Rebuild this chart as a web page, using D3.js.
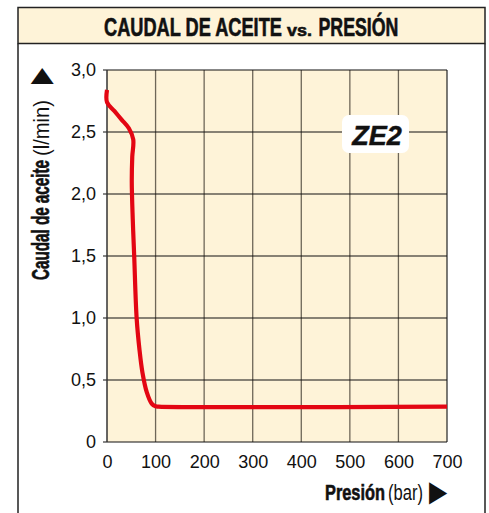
<!DOCTYPE html>
<html>
<head>
<meta charset="utf-8">
<script src="https://cdn.jsdelivr.net/npm/d3@7"></script>
<style>
  html, body { margin: 0; padding: 0; background: #fff; }
  svg { display: block; }
</style>
</head>
<body>
<script>
// Oil flow vs. pressure curve for the ZE2 pump
const pressure = [0, 0, 15, 30, 45, 54, 52, 51, 53, 56, 61, 67, 73, 82, 92, 100, 106, 700];
const flow     = [2.84, 2.74, 2.67, 2.60, 2.53, 2.44, 2.3, 2.1, 1.8, 1.5, 1.0, 0.74, 0.56, 0.4, 0.31, 0.288, 0.285, 0.285];

const xTicks = [0, 100, 200, 300, 400, 500, 600, 700];
const yTicks = [0, 0.5, 1.0, 1.5, 2.0, 2.5, 3.0];
const yTickLabels = ["0", "0,5", "1,0", "1,5", "2,0", "2,5", "3,0"];

const modelName = "ZE2";

const W = 489, H = 513;
const cream = "#fef3d8";
const red = "#e30613";
const ink = "#111";
const sans = "'Liberation Sans', Arial, sans-serif";

const svg = d3.select("body").append("svg").attr("width", W).attr("height", H);

// condensed-looking label: a run of text scaled horizontally to a given width
function squeezed(parent, str, x0, yBase, width, size, bold) {
  const g = parent.append("g");
  const t = g.append("text")
    .attr("x", 0).attr("y", 0)
    .attr("font-family", sans).attr("font-size", size)
    .attr("font-weight", bold ? "bold" : "normal")
    .attr("fill", ink)
    .attr("stroke", bold ? ink : "none").attr("stroke-width", bold ? 0.6 : 0)
    .text(str);
  const natural = t.node().getComputedTextLength() || width;
  g.attr("transform", `translate(${x0},${yBase}) scale(${width / natural},1)`);
  return t;
}

// outer frame and title band
svg.append("rect").attr("x", 18).attr("y", 7.5).attr("width", 467).attr("height", 36)
  .attr("fill", cream).attr("stroke", "#222").attr("stroke-width", 1.5);
svg.append("path").attr("d", "M18,43.5 V520 M485,43.5 V520")
  .attr("stroke", "#222").attr("stroke-width", 1.5).attr("fill", "none");

squeezed(svg, "CAUDAL DE ACEITE", 104, 35.5, 178, 25, true);
squeezed(svg, "vs.", 287, 35.5, 25, 17, true);
squeezed(svg, "PRESIÓN", 318.5, 35.5, 80, 25, true);

// plot area
const x = d3.scaleLinear().domain([0, 700]).range([107, 447]);
const y = d3.scaleLinear().domain([0, 3]).range([442, 70]);

svg.append("rect").attr("x", x(0)).attr("y", y(3)).attr("width", x(700) - x(0)).attr("height", y(0) - y(3))
  .attr("fill", cream);

// vertical grid lines
svg.append("g").selectAll("line").data(xTicks.slice(1)).join("line")
  .attr("x1", d => x(d)).attr("x2", d => x(d))
  .attr("y1", y(3)).attr("y2", y(0))
  .attr("stroke", d => d === 700 ? "#333" : "#6e6658").attr("stroke-width", 1.3);

// horizontal grid lines, extended left as tick marks
svg.append("g").selectAll("line").data(yTicks).join("line")
  .attr("x1", x(0) - 4).attr("x2", x(700))
  .attr("y1", d => y(d)).attr("y2", d => y(d))
  .attr("stroke", ink).attr("stroke-width", 1.1);

// left axis
svg.append("line").attr("x1", x(0)).attr("x2", x(0)).attr("y1", y(3)).attr("y2", y(0))
  .attr("stroke", "#333").attr("stroke-width", 1.5);

// axis tick labels via d3 axes
const yAxis = d3.axisLeft(y).tickValues(yTicks).tickFormat((d, i) => yTickLabels[i]).tickSize(0).tickPadding(11);
const gy = svg.append("g").attr("transform", `translate(${x(0)},0)`).call(yAxis);
gy.select(".domain").remove();
gy.selectAll("text").attr("font-family", sans).attr("font-size", 18).attr("fill", ink);

const xAxis = d3.axisBottom(x).tickValues(xTicks).tickFormat(d => String(d)).tickSize(0).tickPadding(13);
const gx = svg.append("g").attr("transform", `translate(0,${y(0)})`).call(xAxis);
gx.select(".domain").remove();
gx.selectAll("text").attr("font-family", sans).attr("font-size", 18).attr("fill", ink);

// curve
const line = d3.line()
  .x((d, i) => x(pressure[i]))
  .y((d, i) => y(flow[i]))
  .curve(d3.curveCatmullRom.alpha(0.5));
svg.append("path").datum(flow).attr("d", line)
  .attr("fill", "none").attr("stroke", red).attr("stroke-width", 4.2)
  .attr("stroke-linejoin", "round");

// model badge
svg.append("rect").attr("x", 342).attr("y", 115).attr("width", 67).attr("height", 38).attr("rx", 7)
  .attr("fill", "#fff");
svg.append("text").attr("x", 377).attr("y", 145).attr("text-anchor", "middle")
  .attr("font-family", sans)
  .attr("font-weight", "bold").attr("font-style", "italic").attr("font-size", 27).attr("fill", ink)
  .attr("stroke", ink).attr("stroke-width", 0.5)
  .text(modelName);

// y-axis title, reading upward
const yt = svg.append("g").attr("transform", "translate(48.5,0) rotate(-90)");
squeezed(yt, "Caudal de aceite", -280, 0, 120, 23, true);
squeezed(yt, "(l/min)", -156, 0, 56, 22, false);
squeezed(yt, "▶", -84, 1.5, 16, 30, false);

// x-axis title
squeezed(svg, "Presión", 325, 499.5, 60, 22, true);
squeezed(svg, "(bar)", 388, 499.5, 35, 22, false);
squeezed(svg, "▶", 429, 501, 18, 29, false);
</script>
</body>
</html>
